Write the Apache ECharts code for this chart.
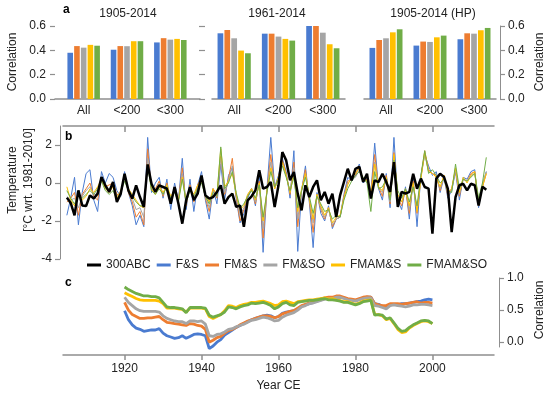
<!DOCTYPE html>
<html><head><meta charset="utf-8">
<script src="https://cdn.jsdelivr.net/npm/echarts@6/dist/echarts.min.js"></script>
<style>html,body{margin:0;padding:0;background:#fff}#c{width:550px;height:396px}</style>
</head><body><div id="c"></div>
<script>
// ---------- DATA ----------
const barCategories = ['All', '<200', '<300'];
const seriesNames = ['F&S', 'FM&S', 'FM&SO', 'FMAM&S', 'FMAM&SO'];
const tempTickLabels = [-4, -2, 0, 2];
const yearTickLabels = [1920, 1940, 1960, 1980, 2000];
const rollTickLabels = [0, 0.5, 1.0];

// panel a: 1905-2014
const barA_FS     = [0.38, 0.405, 0.465];
const barA_FMS    = [0.435, 0.435, 0.50];
const barA_FMSO   = [0.422, 0.434, 0.488];
const barA_FMAMS  = [0.445, 0.475, 0.494];
const barA_FMAMSO = [0.438, 0.475, 0.485];
// panel a: 1961-2014
const barB_FS     = [0.54, 0.537, 0.63];
const barB_FMS    = [0.567, 0.537, 0.625];
const barB_FMSO   = [0.499, 0.513, 0.545];
const barB_FMAMS  = [0.398, 0.494, 0.45];
const barB_FMAMSO = [0.376, 0.48, 0.417];
// panel a: 1905-2014 (HP)
const barC_FS     = [0.42, 0.439, 0.491];
const barC_FMS    = [0.485, 0.472, 0.54];
const barC_FMSO   = [0.499, 0.469, 0.537];
const barC_FMAMS  = [0.548, 0.507, 0.565];
const barC_FMAMSO = [0.573, 0.521, 0.584];

// panel b: temperature 1905-2014
const tempStartYear = 1905;
const tempABC = [
 -0.77,-1.05,-1.70,-0.39,-1.18,-1.21,-0.65,-0.82,-0.56,0.32,
 -0.12,-0.47,0.05,-1.00,-0.56,0.49,-0.39,-0.82,-0.12,-0.74,
 -1.26,0.98,-0.04,-0.47,-0.12,-0.21,-0.30,-1.09,-0.21,-1.09,
 -2.14,-0.91,-0.21,-0.90,-0.56,0.40,-0.65,-0.82,-0.74,-0.47,
 -0.12,-1.09,-0.74,-0.56,-1.26,-1.18,-2.30,-0.91,-0.70,-0.39,
 0.67,-0.30,-0.21,0.05,-1.26,-0.12,1.63,1.19,0.14,0.58,
 -0.56,-1.44,-0.12,-0.74,-0.21,0.14,-0.91,-0.47,-1.09,-0.56,
 -1.79,-0.65,0.05,0.75,0.14,0.75,0.85,0.05,0.49,-0.82,
 0.14,0.05,0.49,0.05,-0.47,1.10,-1.26,-0.47,-0.56,-0.47,
 0.49,-0.30,0.23,-0.21,-0.30,-2.67,0.23,0.49,0.32,-0.30,
 -2.58,-0.74,-0.12,-0.04,-0.39,-0.04,-0.12,-1.18,-0.20,-0.35];
const tempFS = [
 -1.7,-0.8,0.3,-2.2,-0.5,0.5,0.7,-0.9,-1.5,0.6,
 0.0,0.5,0.3,-0.4,-0.7,0.6,-0.5,-1.2,-2.2,-1.7,
 -2.3,2.4,-0.5,0.0,0.3,-0.8,0.2,-1.4,0.0,-0.9,
 1.3,-1.4,0.2,-1.5,-0.1,0.6,-0.9,-1.9,-0.3,-1.1,
 1.0,-0.9,0.4,0.8,-0.8,-2.1,-1.6,-0.8,-0.3,-1.2,
 0.3,-3.65,-0.3,2.4,-0.2,0.4,1.3,0.6,-0.8,1.7,
 -3.6,-0.4,0.9,-1.0,-3.4,-0.5,-1.6,-2.0,-1.2,-2.4,
 -1.9,-1.8,-0.6,0.3,0.1,0.4,1.0,0.0,0.3,-0.5,
 2.1,-0.3,-0.9,0.5,-1.3,2.4,-0.9,-1.4,-0.2,-1.9,
 0.2,-2.3,0.4,1.5,0.9,0.4,0.6,-0.5,0.3,-0.8,
 -0.4,0.6,-0.9,0.3,0.2,0.6,0.7,-1.3,-0.1,0.6];
const tempFMS = [
 -1.0,-0.8,-0.5,-1.7,-0.6,-0.3,0.0,-0.7,-0.9,0.3,
 -0.2,-0.1,0.0,-0.6,-0.6,0.4,-0.5,-1.0,-1.8,-1.5,
 -2.2,1.8,-0.4,-0.3,0.1,-0.7,0.0,-1.1,-0.2,-0.9,
 0.8,-1.2,-0.1,-1.0,-0.1,0.3,-0.8,-1.5,-0.3,-0.8,
 1.4,-0.6,0.2,1.3,-0.7,-2.0,-1.4,-0.7,-0.3,-1.1,
 0.1,-2.9,-0.4,1.5,-0.3,0.3,1.2,0.5,-0.6,1.1,
 -2.3,-0.4,0.7,-0.9,-2.6,-0.6,-1.4,-1.9,-1.3,-2.3,
 -1.9,-1.8,-0.7,0.1,0.2,0.4,0.9,0.1,0.2,-0.5,
 1.5,-0.2,-0.7,0.4,-1.1,1.6,-0.8,-1.2,-0.3,-1.6,
 0.1,-1.6,0.3,1.7,0.7,0.5,0.4,-0.4,0.4,-0.7,
 -0.3,0.7,-0.7,0.2,0.1,0.5,0.6,-1.2,-0.2,0.5];
const tempFMSO = [
 -0.7,-0.9,-0.8,-1.3,-0.7,-0.4,-0.2,-0.6,-0.6,0.2,
 -0.3,-0.3,-0.1,-0.7,-0.5,0.3,-0.4,-0.8,-1.4,-1.3,
 -1.8,1.3,-0.3,-0.4,0.0,-0.6,-0.1,-0.9,-0.3,-0.9,
 0.5,-1.1,-0.2,-0.9,-0.2,0.2,-0.7,-1.3,-0.4,-0.7,
 1.3,-0.5,0.1,0.9,-0.6,-1.7,-1.3,-0.6,-0.3,-1.0,
 0.0,-2.4,-0.4,1.1,-0.3,0.2,1.0,0.4,-0.5,0.8,
 -1.9,-0.4,0.5,-0.8,-2.1,-0.6,-1.3,-1.8,-1.4,-2.2,
 -1.9,-1.8,-0.8,0.0,0.2,0.3,0.7,0.1,0.1,-0.8,
 1.1,-0.2,-0.5,0.3,-1.0,1.3,-0.7,-1.0,-0.3,-1.4,
 0.0,-1.4,0.3,1.5,0.6,0.5,0.3,-0.3,0.3,-0.6,
 -0.4,0.7,-0.6,0.2,0.1,0.4,0.5,-1.0,-0.1,0.6];
const tempFMAMS = [
 -0.2,-0.9,-1.2,-0.5,-0.9,-0.7,-0.3,-0.5,-0.2,0.2,
 -0.3,-0.5,-0.2,-0.8,-0.4,0.3,-0.3,-0.6,-0.9,-1.2,
 -1.3,1.0,-0.3,-0.6,-0.2,-0.5,-0.1,-0.7,-0.4,-0.9,
 0.3,-1.0,-0.3,-0.6,-0.1,0.1,-0.6,-1.0,-0.3,-0.6,
 1.8,-0.2,0.1,0.5,-0.6,-1.4,-1.2,-0.6,-0.3,-0.9,
 0.0,-2.0,-0.4,0.8,-0.3,0.3,1.1,0.4,-0.5,0.5,
 -1.5,-0.3,0.5,-0.8,-1.9,-0.6,-1.2,-1.7,-1.3,-2.1,
 -1.8,-1.7,-0.8,-0.1,0.3,0.5,0.8,0.2,0.1,-0.6,
 1.0,-0.2,-0.4,0.3,-0.8,1.5,-0.6,-1.0,-0.4,-1.2,
 0.0,-1.5,0.2,1.6,0.6,0.5,0.3,-0.2,0.4,-0.5,
 -0.3,0.8,-0.5,0.3,0.0,0.4,0.6,-1.1,-0.2,0.5];
const tempFMAMSO = [
 -0.4,-0.8,-1.1,-0.6,-0.8,-0.6,-0.4,-0.6,-0.3,0.1,
 -0.4,-0.6,-0.4,-0.9,-0.5,0.1,-0.4,-0.7,-1.0,-1.2,
 -1.2,0.9,-0.4,-0.6,-0.3,-0.6,-0.2,-0.8,-0.5,-1.0,
 0.2,-1.0,-0.4,-0.7,-0.3,0.0,-0.7,-1.1,-0.5,-0.7,
 1.9,-0.3,0.0,0.6,-0.5,-1.3,-1.1,-0.7,-0.4,-0.8,
 -0.1,-1.8,-0.5,0.6,-0.2,0.2,0.9,0.3,-0.4,0.3,
 -1.3,-0.4,0.3,-0.7,-1.6,-0.7,-1.1,-1.5,-1.4,-1.9,
 -1.7,-1.8,-0.9,-0.3,0.1,0.4,0.6,0.3,0.0,-1.5,
 0.6,-0.3,-0.2,0.2,-0.9,1.2,-0.4,-0.8,-0.3,-1.0,
 -0.2,-1.2,0.4,1.7,0.5,0.7,0.4,0.0,0.2,-0.4,
 -0.5,1.0,-0.3,0.2,0.1,0.3,0.5,-0.8,0.0,1.35];

// panel c: running correlation 1920-2000
const corrStartYear = 1920;
const corrFS = [
 0.49,0.35,0.27,0.22,0.20,0.17,0.18,0.19,0.19,0.21,
 0.14,0.10,0.08,0.06,0.07,0.10,0.06,0.09,0.12,0.13,
 0.12,0.10,-0.10,-0.06,0.00,0.04,0.11,0.15,0.19,0.23,
 0.26,0.29,0.32,0.35,0.37,0.39,0.41,0.42,0.41,0.38,
 0.40,0.45,0.47,0.48,0.49,0.52,0.56,0.58,0.60,0.62,
 0.64,0.66,0.68,0.69,0.68,0.70,0.70,0.69,0.67,0.66,
 0.65,0.67,0.69,0.70,0.70,0.60,0.59,0.56,0.54,0.58,
 0.59,0.58,0.60,0.60,0.61,0.62,0.63,0.64,0.66,0.67,0.66];
const corrFMS = [
 0.62,0.50,0.43,0.40,0.37,0.37,0.38,0.38,0.39,0.40,
 0.35,0.31,0.30,0.29,0.28,0.27,0.26,0.29,0.28,0.26,
 0.25,0.20,0.00,0.03,0.07,0.09,0.14,0.18,0.20,0.23,
 0.27,0.30,0.33,0.35,0.37,0.39,0.41,0.41,0.40,0.38,
 0.40,0.44,0.46,0.48,0.49,0.53,0.57,0.59,0.61,0.63,
 0.65,0.67,0.69,0.70,0.70,0.72,0.72,0.70,0.68,0.67,
 0.66,0.68,0.70,0.71,0.70,0.60,0.58,0.57,0.57,0.60,
 0.60,0.60,0.59,0.60,0.61,0.62,0.63,0.61,0.62,0.62,0.61];
const corrFMSO = [
 0.70,0.62,0.57,0.52,0.49,0.48,0.48,0.48,0.48,0.47,
 0.41,0.37,0.35,0.33,0.32,0.32,0.29,0.33,0.33,0.32,
 0.33,0.28,0.10,0.09,0.12,0.13,0.16,0.20,0.21,0.24,
 0.26,0.28,0.31,0.34,0.35,0.37,0.39,0.38,0.36,0.33,
 0.34,0.39,0.42,0.44,0.46,0.50,0.55,0.57,0.60,0.61,
 0.63,0.65,0.67,0.68,0.68,0.70,0.70,0.68,0.66,0.65,
 0.64,0.66,0.68,0.69,0.69,0.57,0.56,0.54,0.52,0.57,
 0.58,0.57,0.56,0.55,0.56,0.58,0.58,0.59,0.59,0.58,0.57];
const corrFMAMS = [
 0.77,0.74,0.71,0.68,0.66,0.65,0.65,0.65,0.65,0.64,
 0.60,0.53,0.53,0.53,0.52,0.51,0.47,0.53,0.53,0.53,
 0.53,0.52,0.40,0.37,0.40,0.43,0.49,0.57,0.56,0.54,
 0.57,0.59,0.60,0.62,0.62,0.63,0.64,0.62,0.60,0.57,
 0.58,0.63,0.64,0.62,0.60,0.63,0.64,0.65,0.66,0.66,
 0.67,0.68,0.69,0.67,0.68,0.66,0.65,0.63,0.63,0.61,
 0.59,0.61,0.64,0.65,0.66,0.43,0.43,0.41,0.35,0.37,
 0.29,0.20,0.15,0.16,0.22,0.26,0.29,0.32,0.33,0.32,0.29];
const corrFMAMSO = [
 0.86,0.82,0.79,0.76,0.74,0.72,0.72,0.71,0.71,0.69,
 0.62,0.55,0.54,0.54,0.53,0.52,0.46,0.54,0.54,0.54,
 0.54,0.53,0.42,0.39,0.41,0.43,0.47,0.55,0.54,0.52,
 0.55,0.57,0.58,0.61,0.60,0.61,0.62,0.60,0.57,0.52,
 0.55,0.60,0.62,0.58,0.57,0.62,0.63,0.64,0.65,0.65,
 0.66,0.67,0.68,0.66,0.66,0.65,0.64,0.62,0.62,0.60,
 0.58,0.60,0.63,0.64,0.65,0.42,0.43,0.42,0.36,0.38,
 0.30,0.22,0.17,0.18,0.23,0.27,0.30,0.33,0.34,0.33,0.29];

// ---------- STYLE ----------
const FONT = "'Liberation Sans', Arial, sans-serif";
const TXT = '#222';
const AX = '#8f8f8f';
const COLORS = ['#4a7bd0', '#ed7d31', '#a5a5a5', '#ffc000', '#70ad47'];

function pairs(start, arr) { return arr.map((v, i) => [start + i, v]); }
const noGrid = {containLabel: false, outerBoundsMode: 'none'};

const barSets = [
  [barA_FS, barA_FMS, barA_FMSO, barA_FMAMS, barA_FMAMSO],
  [barB_FS, barB_FMS, barB_FMSO, barB_FMAMS, barB_FMAMSO],
  [barC_FS, barC_FMS, barC_FMSO, barC_FMAMS, barC_FMAMSO]
];
const barAxisIdx = [0, 2, 3];
const series = [];
barSets.forEach((set, p) => {
  set.forEach((vals, k) => {
    series.push({
      type: 'bar', name: 'bar' + p + '_' + seriesNames[k],
      xAxisIndex: barAxisIdx[p], yAxisIndex: barAxisIdx[p],
      data: vals, barCategoryGap: '25%', barGap: '20%',
      itemStyle: {color: COLORS[k]}, silent: true
    });
  });
});
const tempSets = [tempFS, tempFMS, tempFMSO, tempFMAMS, tempFMAMSO];
tempSets.forEach((arr, k) => {
  series.push({type: 'line', name: seriesNames[k], xAxisIndex: 4, yAxisIndex: 4,
    data: pairs(tempStartYear, arr), showSymbol: false, symbol: 'none',
    lineStyle: {color: COLORS[k], width: 1}, itemStyle: {color: COLORS[k]}, z: 2});
});
series.push({type: 'line', name: '300ABC', xAxisIndex: 4, yAxisIndex: 4,
  data: pairs(tempStartYear, tempABC), showSymbol: false, symbol: 'none',
  lineStyle: {color: '#000', width: 2.5}, itemStyle: {color: '#000'}, z: 3});
const corrSets = [corrFS, corrFMS, corrFMSO, corrFMAMS, corrFMAMSO];
corrSets.forEach((arr, k) => {
  series.push({type: 'line', name: seriesNames[k], xAxisIndex: 5, yAxisIndex: 5,
    data: pairs(corrStartYear, arr), showSymbol: false, symbol: 'none',
    lineStyle: {color: COLORS[k], width: 2.8}, itemStyle: {color: COLORS[k]}});
});

const lbl = {fontFamily: FONT, fontSize: 12, color: TXT};
const catX = (gi, showLine) => ({
  type: 'category', gridIndex: gi, data: barCategories,
  axisLine: {show: showLine, onZero: false, lineStyle: {color: AX, width: 1.5}},
  axisTick: {show: false}, axisLabel: Object.assign({margin: 6}, lbl)
});

const option = {
  animation: false,
  textStyle: {fontFamily: FONT},
  grid: [
    Object.assign({left: 62, top: 26, width: 130, height: 73}, noGrid),
    Object.assign({left: 55, top: 26, width: 145, height: 73}, noGrid),
    Object.assign({left: 212, top: 26, width: 133, height: 73}, noGrid),
    Object.assign({left: 364, top: 26, width: 132, height: 73}, noGrid),
    Object.assign({left: 63, top: 126, width: 431, height: 133}, noGrid),
    Object.assign({left: 63, top: 278, width: 431, height: 77}, noGrid),
    Object.assign({left: 63, top: 278, width: 431, height: 69}, noGrid)
  ],
  xAxis: [
    catX(0, false),
    {type: 'value', gridIndex: 1, min: 0, max: 1, axisLine: {show: true, onZero: false, lineStyle: {color: AX, width: 1.5}},
     axisTick: {show: false}, axisLabel: {show: false}, splitLine: {show: false}},
    catX(2, true),
    catX(3, true),
    {type: 'value', gridIndex: 4, min: 1904, max: 2016, position: 'top',
     axisLine: {show: true, onZero: false, lineStyle: {color: AX, width: 1.5}},
     axisTick: {show: true, inside: true, length: 6, customValues: yearTickLabels, lineStyle: {color: AX, width: 1.5}},
     axisLabel: {show: false}, splitLine: {show: false}},
    {type: 'value', gridIndex: 5, min: 1904, max: 2016, position: 'bottom',
     axisLine: {show: true, onZero: false, lineStyle: {color: AX, width: 1.5}},
     axisTick: {show: true, length: 5, customValues: yearTickLabels, lineStyle: {color: AX, width: 1.5}},
     axisLabel: Object.assign({customValues: yearTickLabels, formatter: v => String(v), margin: 8}, lbl),
     splitLine: {show: false},
     name: 'Year CE', nameLocation: 'middle', nameGap: 25, nameTextStyle: lbl},
    {type: 'value', gridIndex: 6, min: 0, max: 1, show: false}
  ],
  yAxis: [
    {type: 'value', gridIndex: 0, min: 0, max: 0.6, show: false},
    {type: 'value', gridIndex: 1, min: 0, max: 0.6, interval: 0.2,
     axisLine: {show: false, onZero: false}, axisTick: {show: true, length: 5, lineStyle: {color: AX, width: 1.2}},
     axisLabel: Object.assign({formatter: v => v.toFixed(1), margin: 9}, lbl), splitLine: {show: false}},
    {type: 'value', gridIndex: 2, min: 0, max: 0.6, interval: 0.2, offset: 7,
     axisLine: {show: false, onZero: false}, axisTick: {show: true, length: 6, lineStyle: {color: AX, width: 1.2}},
     axisLabel: {show: false}, splitLine: {show: false}},
    {type: 'value', gridIndex: 3, min: 0, max: 0.6, interval: 0.2, position: 'right', offset: 4,
     axisLine: {show: true, onZero: false, lineStyle: {color: AX, width: 1}}, axisTick: {show: true, length: 5, lineStyle: {color: AX, width: 1.2}},
     axisLabel: Object.assign({formatter: v => v.toFixed(1), margin: 8}, lbl), splitLine: {show: false}},
    {type: 'value', gridIndex: 4, min: -4, max: 3, offset: 3,
     axisLine: {show: true, onZero: false, lineStyle: {color: AX, width: 1}},
     axisTick: {show: true, length: 5, customValues: tempTickLabels, lineStyle: {color: AX, width: 1.2}},
     axisLabel: Object.assign({customValues: tempTickLabels, margin: 8}, lbl), splitLine: {show: false}},
    {type: 'value', gridIndex: 5, min: -0.2, max: 1, show: false},
    {type: 'value', gridIndex: 6, min: -0.078, max: 1, position: 'right', offset: 5,
     axisLine: {show: true, onZero: false, lineStyle: {color: AX, width: 1}},
     axisTick: {show: true, length: 5, customValues: rollTickLabels, lineStyle: {color: AX, width: 1.2}},
     axisLabel: Object.assign({customValues: rollTickLabels, formatter: v => v.toFixed(1), margin: 8}, lbl),
     splitLine: {show: false}}
  ],
  legend: {
    data: ['300ABC'].concat(seriesNames), left: 87, top: 259, padding: 0,
    icon: 'rect', itemWidth: 14, itemHeight: 3, itemGap: 6,
    textStyle: {fontFamily: FONT, fontSize: 12, color: TXT}, selectedMode: false
  },
  graphic: [
    {type: 'text', x: 63, y: 10, style: {text: 'a', font: 'bold 12px ' + FONT, fill: '#000', align: 'left', verticalAlign: 'middle'}},
    {type: 'text', x: 128, y: 14, style: {text: '1905-2014', font: '12px ' + FONT, fill: TXT, align: 'center', verticalAlign: 'middle'}},
    {type: 'text', x: 277, y: 14, style: {text: '1961-2014', font: '12px ' + FONT, fill: TXT, align: 'center', verticalAlign: 'middle'}},
    {type: 'text', x: 433, y: 14, style: {text: '1905-2014 (HP)', font: '12px ' + FONT, fill: TXT, align: 'center', verticalAlign: 'middle'}},
    {type: 'text', x: 13, y: 62, rotation: Math.PI / 2, style: {text: 'Correlation', font: '12px ' + FONT, fill: TXT, align: 'center', verticalAlign: 'middle'}},
    {type: 'text', x: 540, y: 62, rotation: Math.PI / 2, style: {text: 'Correlation', font: '12px ' + FONT, fill: TXT, align: 'center', verticalAlign: 'middle'}},
    {type: 'text', x: 65, y: 137, style: {text: 'b', font: 'bold 12px ' + FONT, fill: '#000', align: 'left', verticalAlign: 'middle'}},
    {type: 'text', x: 13, y: 180, rotation: Math.PI / 2, style: {text: 'Temperature', font: '12px ' + FONT, fill: TXT, align: 'center', verticalAlign: 'middle'}},
    {type: 'text', x: 29, y: 180, rotation: Math.PI / 2, style: {text: '[°C wrt. 1981-2010]', font: '12px ' + FONT, fill: TXT, align: 'center', verticalAlign: 'middle'}},
    {type: 'text', x: 65, y: 283, style: {text: 'c', font: 'bold 12px ' + FONT, fill: '#000', align: 'left', verticalAlign: 'middle'}},
    {type: 'text', x: 540, y: 310, rotation: Math.PI / 2, style: {text: 'Correlation', font: '12px ' + FONT, fill: TXT, align: 'center', verticalAlign: 'middle'}}
  ],
  series: series
};
const chart = echarts.init(document.getElementById('c'), null, {renderer: 'canvas'});
chart.setOption(option);
</script>
</body></html>
